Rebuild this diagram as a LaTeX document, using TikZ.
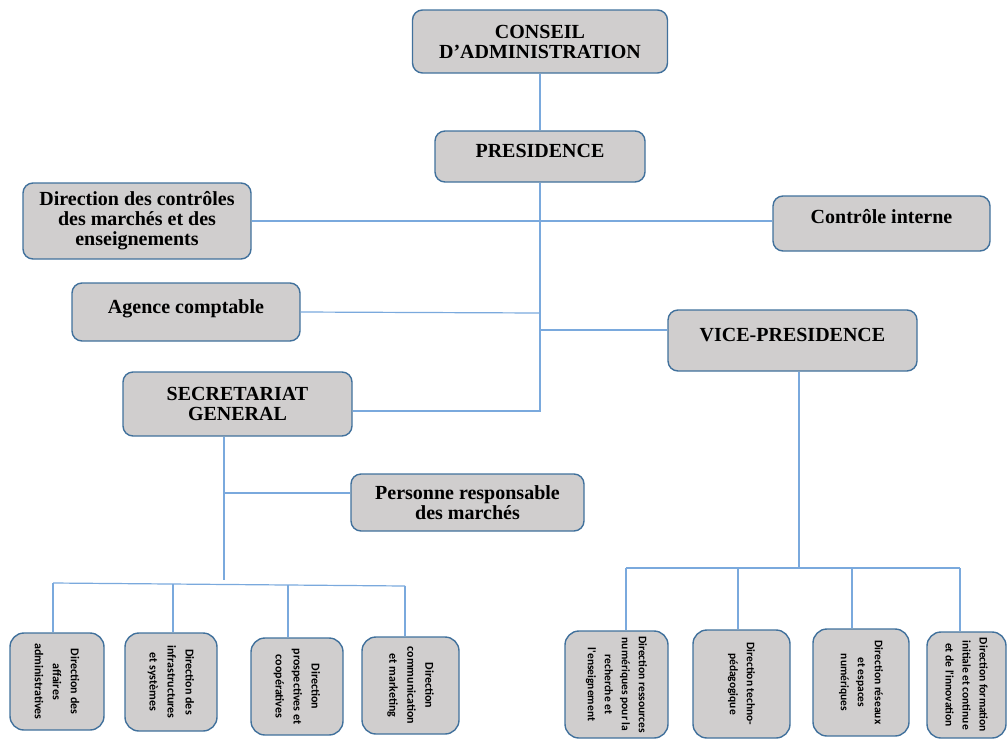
\documentclass[tikz,border=0pt]{standalone}
\usepackage{fontspec}
\setmainfont{Liberation Serif}
\newfontfamily\subfont{Carlito}
\definecolor{boxfill}{HTML}{D0CECE}
\definecolor{boxline}{HTML}{41719C}
\definecolor{linkcol}{HTML}{7AA9DD}
\tikzset{
  unit/.style={draw=boxline,fill=boxfill,line width=1.4pt,rounded corners=10pt,align=center,inner sep=0pt,font=\fontsize{20}{20}\selectfont\bfseries},
  subunit/.style={draw=boxline,fill=boxfill,line width=1.4pt,rounded corners=14pt,align=center,inner sep=0pt,rotate=-90,font=\subfont\fontsize{12}{18}\selectfont\bfseries},
  vsubunit/.style={subunit,font=\subfont\fontsize{11.5}{17}\selectfont\bfseries},
  link/.style={draw=linkcol,line width=1.2pt}
}

\begin{document}
\begin{tikzpicture}[x=1pt,y=-1pt]
\useasboundingbox (0,0) rectangle (1008,739);
% upper part
\node (conseil) [unit,minimum width=255pt,minimum height=63pt] at (540,41.5) {CONSEIL\\D'ADMINISTRATION};
\node (presidence) [unit,minimum width=210pt,minimum height=51pt,text height=14pt,text depth=13pt] at (540,156.5) {PRESIDENCE};
\node (dcontroles) [unit,minimum width=228pt,minimum height=76pt] at (137,221) {Direction des contrôles\\des marchés et des\\enseignements};
\node (cinterne) [unit,minimum width=217pt,minimum height=55pt,text height=14pt,text depth=15pt] at (881.5,223.5) {Contrôle interne};
\node (agence) [unit,minimum width=228pt,minimum height=58pt,text height=14pt,text depth=12pt] at (186,312) {Agence comptable};
\node (vicepres) [unit,minimum width=249pt,minimum height=61pt,text height=14pt,text depth=13pt] at (792.5,340.5) {VICE-PRESIDENCE};
\node (secgen) [unit,minimum width=229pt,minimum height=64pt] at (237.5,404) {SECRETARIAT\\GENERAL};
\node (prm) [unit,minimum width=233pt,minimum height=57pt] at (467.5,502.5) {Personne responsable\\des marchés};
% directions of the secretariat
\node (daa) [subunit,minimum width=97pt,minimum height=94pt] at (57,681.5) {Direction des\\affaires\\administratives};
\node (dis) [subunit,minimum width=98pt,minimum height=92pt] at (171,682) {Direction des\\infrastructures\\et systèmes};
\node (dpc) [subunit,minimum width=97pt,minimum height=92pt] at (297,686.5) {Direction\\prospectives et\\coopératives};
\node (dcm) [subunit,minimum width=97pt,minimum height=97pt] at (410.5,685.5) {Direction\\communication\\et marketing};
% directions of the vice-presidence
\node (drn) [vsubunit,minimum width=107pt,minimum height=103pt] at (616.5,684.5) {Direction ressources\\numériques pour la\\recherche et\\l'enseignement};
\node (dtp) [vsubunit,minimum width=108pt,minimum height=97pt] at (741.5,684) {Direction techno-\\pédagogique};
\node (dre) [vsubunit,minimum width=107pt,minimum height=96pt] at (861,682.5) {Direction réseaux\\et espaces\\numériques};
\node (dfi) [vsubunit,minimum width=106pt,minimum height=79pt] at (966.5,685) {Direction formation\\initiale et continue\\et de l'innovation};
% junctions
\coordinate (jagence) at (540,313);
\coordinate (jvice) at (540,330);
\coordinate (jsec) at (540,411);
\coordinate (jprm) at (224,493);
\coordinate (sgend) at (224,580);
\coordinate (sbar1) at (53,583);
\coordinate (sbar2) at (173,584);
\coordinate (sbar3) at (288,585);
\coordinate (sbar4) at (405,586);
\coordinate (vpend) at (799,568);
\coordinate (vbar1) at (626,568);
\coordinate (vbar2) at (738,568);
\coordinate (vbar3) at (852,568);
\coordinate (vbar4) at (960,568);
% connectors
\draw[link] (conseil) -- (presidence);
\draw[link] (presidence.south) -- (jsec) -- (jsec -| secgen.east);
\draw[link] (dcontroles.east) -- (dcontroles.east -| cinterne.west);
\draw[link] (agence.east) -- (jagence);
\draw[link] (jvice) -- (jvice -| vicepres.west);
\draw[link] (secgen.south -| sgend) -- (sgend);
\draw[link] (jprm) -- (jprm -| prm.west);
\draw[link] (sbar1) -- (sbar4);
\draw[link] (sbar1) -- (sbar1 |- daa.west);
\draw[link] (sbar2) -- (sbar2 |- dis.west);
\draw[link] (sbar3) -- (sbar3 |- dpc.west);
\draw[link] (sbar4) -- (sbar4 |- dcm.west);
\draw[link] (vicepres.south -| vpend) -- (vpend);
\draw[link] (vbar1) -- (vbar4);
\draw[link] (vbar1) -- (vbar1 |- drn.west);
\draw[link] (vbar2) -- (vbar2 |- dtp.west);
\draw[link] (vbar3) -- (vbar3 |- dre.west);
\draw[link] (vbar4) -- (vbar4 |- dfi.west);
\end{tikzpicture}
\end{document}
